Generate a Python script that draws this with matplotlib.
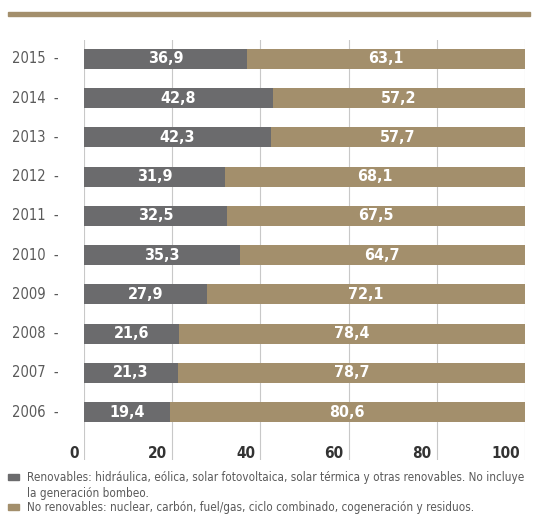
import matplotlib
matplotlib.use("Agg")
import matplotlib.pyplot as plt
from matplotlib import font_manager
from matplotlib.patches import Rectangle

# Generation mix by year (% share)
years = ["2006", "2007", "2008", "2009", "2010", "2011", "2012", "2013", "2014", "2015"]
renovables = [19.4, 21.3, 21.6, 27.9, 35.3, 32.5, 31.9, 42.3, 42.8, 36.9]
no_renovables = [80.6, 78.7, 78.4, 72.1, 64.7, 67.5, 68.1, 57.7, 57.2, 63.1]
x_ticks = [0, 20, 40, 60, 80, 100]

legend_texts = [
    "Renovables: hidráulica, eólica, solar fotovoltaica, solar térmica y otras renovables. No incluye\nla generación bombeo.",
    "No renovables: nuclear, carbón, fuel/gas, ciclo combinado, cogeneración y residuos.",
]

GRAY = "#6b6b6d"
TAN = "#a38f6c"
TEXT = "#5a5a5a"

# prefer a condensed face if one is around
condensed = [f for f in font_manager.fontManager.ttflist
             if "ondensed" in str(f.stretch) or "Narrow" in f.name or "Condensed" in f.fname]
narrow = condensed[0].name if condensed else "DejaVu Sans"
stretch = "condensed"

W, H = 534, 524
fig = plt.figure(figsize=(W / 100, H / 100), dpi=100)

# top header band
fig.patches.append(Rectangle((8 / W, 1 - 16 / H), 522 / W, 4 / H,
                             transform=fig.transFigure, color=TAN, zorder=1))

left, right, top, bottom = 84, 525, 40, 460
ax = fig.add_axes([left / W, 1 - bottom / H, (right - left) / W, (bottom - top) / H])
ax.set_xlim(0, 100)
ax.set_ylim(-1.22, 9.48)
ax.axis("off")

for t in x_ticks:
    ax.axvline(t, color="#c8c8c8", linewidth=0.8, zorder=0)

pos = list(range(len(years)))
ax.barh(pos, renovables, height=0.51, color=GRAY, zorder=2)
ax.barh(pos, no_renovables, left=renovables, height=0.51, color=TAN, zorder=2)

for i, (r, n) in enumerate(zip(renovables, no_renovables)):
    for xc, v in ((r / 2, r), (r + n / 2, n)):
        ax.text(xc, i, f"{v:.1f}".replace(".", ","), ha="center", va="center",
                color="white", fontsize=11.5, fontweight="bold", family=narrow,
                fontstretch=stretch, zorder=3)
    ax.text(-5.8, i, f"{years[i]}  -", ha="right", va="center", color=TEXT,
            fontsize=10.5, family=narrow, fontstretch=stretch)

for t in x_ticks:
    ax.text(t - 1.2, -1.05, str(t), ha="right", va="center", color="#333333",
            fontsize=11, fontweight="bold", family=narrow, fontstretch=stretch)

# legend notes below the chart
for txt, col, y in zip(legend_texts, [GRAY, TAN], [477, 507]):
    fig.patches.append(Rectangle((8 / W, 1 - (y + 3) / H), 11 / W, 6 / H,
                                 transform=fig.transFigure, color=col))
    fig.text(27 / W, 1 - (y - 6) / H, txt, ha="left", va="top", color=TEXT,
             fontsize=8.4, family=narrow, fontstretch=stretch, linespacing=1.3)

fig.savefig("out.png", dpi=100)
